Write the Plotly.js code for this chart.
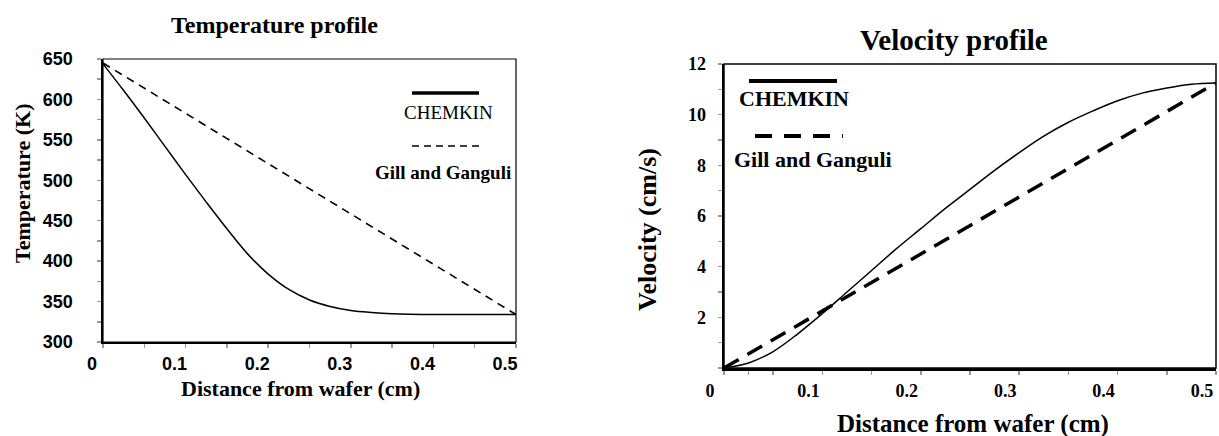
<!DOCTYPE html>
<html>
<head>
<meta charset="utf-8">
<script src="https://cdn.plot.ly/plotly-3.0.1.min.js"></script>
<style>html,body{margin:0;padding:0;background:#fff;}#chart{width:1219px;height:436px;}</style>
</head>
<body>
<div id="chart"></div>
<script>
// ---- Data ----
const tempDistance = [0, 0.025, 0.05, 0.075, 0.1, 0.125, 0.15, 0.175, 0.2, 0.225, 0.25, 0.275, 0.3, 0.325, 0.35, 0.4, 0.45, 0.5];
const tempChemkin  = [644, 611, 577, 542, 507, 473, 440, 409, 384, 365, 352, 344, 339, 336.5, 335, 334, 334, 334];
const tempGillDistance = [0, 0.5];
const tempGill     = [645, 334];

const velDistance = [0, 0.025, 0.05, 0.075, 0.1, 0.125, 0.15, 0.175, 0.2, 0.225, 0.25, 0.275, 0.3, 0.325, 0.35, 0.375, 0.4, 0.425, 0.45, 0.475, 0.5];
const velChemkin  = [0, 0.2, 0.65, 1.35, 2.15, 3.0, 3.85, 4.7, 5.5, 6.3, 7.05, 7.8, 8.5, 9.15, 9.7, 10.15, 10.55, 10.85, 11.05, 11.2, 11.25];
const velGillDistance = [0, 0.5];
const velGill     = [0, 11.25];

const tempTickVals = [300, 350, 400, 450, 500, 550, 600, 650];
const velTickVals  = [0, 2, 4, 6, 8, 10, 12];
const velTickText  = ['', '2', '4', '6', '8', '10', '12'];
const distTickVals = [0, 0.1, 0.2, 0.3, 0.4, 0.5];
const distTickText = ['0', '0.1', '0.2', '0.3', '0.4', '0.5'];

const seriesNames = ['CHEMKIN', 'Gill and Ganguli'];
const titles = {temp: 'Temperature profile', vel: 'Velocity profile'};
const axisTitles = {dist: 'Distance from wafer (cm)', temp: 'Temperature (K)', vel: 'Velocity (cm/s)'};

// ---- Layout helpers ----
const W = 1219, H = 436;
const px = x => x / W;
const py = y => 1 - y / H;
const SERIF = 'Liberation Serif, Times New Roman, serif';
const SANS = 'Liberation Sans, Arial, sans-serif';

const traces = [
  {x: tempDistance, y: tempChemkin, xaxis: 'x', yaxis: 'y', mode: 'lines', name: seriesNames[0],
   line: {color: '#000', width: 1.5, shape: 'spline', smoothing: 1}},
  {x: tempGillDistance, y: tempGill, xaxis: 'x', yaxis: 'y', mode: 'lines', name: seriesNames[1],
   line: {color: '#000', width: 1.6, dash: '8px,6px'}},
  {x: velDistance, y: velChemkin, xaxis: 'x2', yaxis: 'y2', mode: 'lines', name: seriesNames[0],
   line: {color: '#000', width: 1.5, shape: 'spline', smoothing: 1}},
  {x: velGillDistance, y: velGill, xaxis: 'x2', yaxis: 'y2', mode: 'lines', name: seriesNames[1],
   line: {color: '#000', width: 3.5, dash: '17px,10px'}}
];

const tickCommon = {ticks: 'outside', ticklen: 4, tickwidth: 1.5, tickcolor: '#999',
  showline: true, linecolor: '#000', showgrid: false, zeroline: false, fixedrange: true};

const layout = {
  width: W, height: H,
  margin: {l: 0, r: 0, t: 0, b: 0},
  paper_bgcolor: '#fff', plot_bgcolor: '#fff',
  showlegend: false,
  xaxis: Object.assign({}, tickCommon, {
    domain: [px(103), px(516)], anchor: 'y', range: [0, 0.5],
    tickvals: distTickVals, ticktext: distTickText, linewidth: 2,
    minor: {tickvals: [0.05, 0.15, 0.25, 0.35, 0.45], ticks: 'outside', ticklen: 4, tickcolor: '#999', tickwidth: 1.5},
    tickfont: {family: SANS, size: 18, weight: 'bold', color: '#000'},
    ticklabelstandoff: 0, ticklabelshift: -11
  }),
  yaxis: Object.assign({}, tickCommon, {
    domain: [1 - 342 / H, 1 - 59 / H], anchor: 'x', range: [300, 650],
    tickvals: tempTickVals, linewidth: 2.5,
    minor: {dtick: 25, ticks: 'outside', ticklen: 4, tickcolor: '#999', tickwidth: 1.5},
    tickfont: {family: SANS, size: 18, weight: 'bold', color: '#000'},
    ticklabelstandoff: 20
  }),
  xaxis2: Object.assign({}, tickCommon, {
    domain: [px(724), px(1216)], anchor: 'y2', range: [0, 0.5],
    tickvals: distTickVals, ticktext: distTickText, linewidth: 2.5,
    minor: {tickvals: [0.025, 0.05, 0.15, 0.25, 0.35, 0.45], ticks: 'outside', ticklen: 4, tickcolor: '#999', tickwidth: 1.5},
    tickfont: {family: SERIF, size: 18, weight: 'bold', color: '#000'},
    ticklabelstandoff: 1, ticklabelshift: -14
  }),
  yaxis2: Object.assign({}, tickCommon, {
    domain: [1 - 368 / H, 1 - 64 / H], anchor: 'x2', range: [0, 12],
    tickvals: velTickVals, ticktext: velTickText, linewidth: 2.5,
    minor: {dtick: 1, ticks: 'outside', ticklen: 4, tickcolor: '#999', tickwidth: 1.5},
    tickfont: {family: SERIF, size: 18, weight: 'bold', color: '#000'},
    ticklabelstandoff: 8
  }),
  shapes: [
    {type: 'rect', xref: 'x domain', yref: 'y domain', x0: 0, x1: 1, y0: 0, y1: 1, line: {color: '#000', width: 1.2}},
    {type: 'rect', xref: 'x2 domain', yref: 'y2 domain', x0: 0, x1: 1, y0: 0, y1: 1, line: {color: '#000', width: 1.5}},
    // legend keys, left panel
    {type: 'line', xref: 'paper', yref: 'paper', x0: px(412), x1: px(479), y0: py(93), y1: py(93), line: {color: '#000', width: 3.5}},
    {type: 'line', xref: 'paper', yref: 'paper', x0: px(412), x1: px(479), y0: py(146), y1: py(146), line: {color: '#000', width: 1.6, dash: '7px,5px'}},
    // legend keys, right panel
    {type: 'line', xref: 'paper', yref: 'paper', x0: px(749), x1: px(837), y0: py(81), y1: py(81), line: {color: '#000', width: 4}},
    {type: 'line', xref: 'paper', yref: 'paper', x0: px(755), x1: px(843), y0: py(136), y1: py(136), line: {color: '#000', width: 4, dash: '17px,12px'}}
  ],
  annotations: [
    {text: titles.temp, xref: 'paper', yref: 'paper', x: px(274), y: py(25), showarrow: false, xanchor: 'center', yanchor: 'middle',
     font: {family: SERIF, size: 24, weight: 'bold', color: '#000'}},
    {text: axisTitles.temp, xref: 'paper', yref: 'paper', x: px(22), y: py(184), textangle: -90, showarrow: false, xanchor: 'center', yanchor: 'middle',
     font: {family: SERIF, size: 22, weight: 'bold', color: '#000'}},
    {text: axisTitles.dist, xref: 'paper', yref: 'paper', x: px(300), y: py(388), showarrow: false, xanchor: 'center', yanchor: 'middle',
     font: {family: SERIF, size: 22, weight: 'bold', color: '#000'}},
    {text: seriesNames[0], xref: 'paper', yref: 'paper', x: px(448), y: py(113), showarrow: false, xanchor: 'center', yanchor: 'middle',
     font: {family: SERIF, size: 19, color: '#000'}},
    {text: seriesNames[1], xref: 'paper', yref: 'paper', x: px(443), y: py(172), showarrow: false, xanchor: 'center', yanchor: 'middle',
     font: {family: SERIF, size: 19, weight: 'bold', color: '#000'}},

    {text: titles.vel, xref: 'paper', yref: 'paper', x: px(954), y: py(40), showarrow: false, xanchor: 'center', yanchor: 'middle',
     font: {family: SERIF, size: 29, weight: 'bold', color: '#000'}},
    {text: axisTitles.vel, xref: 'paper', yref: 'paper', x: px(648), y: py(230), textangle: -90, showarrow: false, xanchor: 'center', yanchor: 'middle',
     font: {family: SERIF, size: 26, weight: 'bold', color: '#000'}},
    {text: axisTitles.dist, xref: 'paper', yref: 'paper', x: px(973), y: py(424), showarrow: false, xanchor: 'center', yanchor: 'middle',
     font: {family: SERIF, size: 25, weight: 'bold', color: '#000'}},
    {text: seriesNames[0], xref: 'paper', yref: 'paper', x: px(794), y: py(98), showarrow: false, xanchor: 'center', yanchor: 'middle',
     font: {family: SERIF, size: 22, weight: 'bold', color: '#000'}},
    {text: seriesNames[1], xref: 'paper', yref: 'paper', x: px(813), y: py(159), showarrow: false, xanchor: 'center', yanchor: 'middle',
     font: {family: SERIF, size: 22, weight: 'bold', color: '#000'}}
  ]
};

Plotly.newPlot('chart', traces, layout, {staticPlot: true, displayModeBar: false});
</script>
</body>
</html>
